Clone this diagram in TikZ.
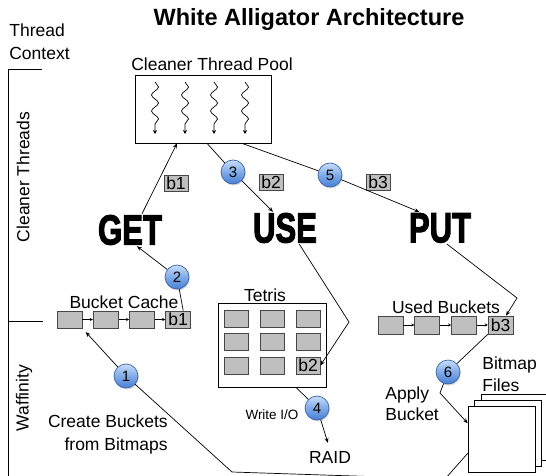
\documentclass[tikz,border=0pt]{standalone}
\usepackage{fontspec}
\setmainfont{Liberation Sans}
\newfontfamily\heavyfont[FakeBold=3]{Liberation Sans Bold}
\usetikzlibrary{positioning,arrows.meta,decorations.pathmorphing,calc,shadows}

\definecolor{bucketgray}{RGB}{191,191,191}
\definecolor{edgegray}{RGB}{70,70,70}
\definecolor{steptop}{RGB}{200,222,250}
\definecolor{stepbottom}{RGB}{70,128,215}
\definecolor{stepedge}{RGB}{60,100,170}

\tikzset{
	lbl/.style={font=\fontsize{17.5}{21}\selectfont, inner sep=1pt},
	verb/.style={font=\heavyfont\fontsize{42}{42}\selectfont, xscale=0.74, inner sep=1pt},
	bucket/.style={draw=edgegray, fill=bucketgray, minimum width=25pt, minimum height=17pt,
		inner sep=0pt, font=\fontsize{17.5}{21}\selectfont},
	tag/.style={bucket, minimum width=24pt, minimum height=16pt},
	stepball/.style={circle, minimum size=24pt, inner sep=0pt, top color=steptop, bottom color=stepbottom,
		middle color=stepbottom!55!steptop, draw=stepedge, font=\fontsize{15}{18}\selectfont,
		drop shadow={opacity=0.3, shadow xshift=0.8pt, shadow yshift=-1.5pt}},
	flow/.style={-{Stealth[length=5pt,width=4pt]}},
	link/.style={-{Stealth[length=3pt,width=3pt]}},
	wave/.style={decorate, decoration={snake, amplitude=3.5pt, segment length=16pt, post length=5pt},
		-{Stealth[length=4pt,width=4pt]}}
}

\begin{document}
\begin{tikzpicture}[x=1pt, y=-1pt, line width=0.7pt]
\useasboundingbox (0,0) rectangle (546,476);

\node[font=\bfseries\fontsize{23.5}{28}\selectfont] (title) at (309,19) {White Alligator Architecture};

% thread context bracket
\node[lbl, align=left, anchor=west, font=\fontsize{17.5}{23}\selectfont] (context) at (8,42) {Thread\\Context};
\draw (42,69) -- (8,69) -- (8,480);
\draw (8,321) -- (43,321);
\node[lbl, rotate=90] (cleaner) at (23,177) {Cleaner Threads};
\node[lbl, rotate=90] (waff) at (24,398) {Waffinity};

% thread pool
\node[draw, minimum width=136pt, minimum height=68pt] (pool) at (203,109) {};
\node[lbl] (poollbl) at (212,64) {Cleaner Thread Pool};
\foreach \x in {155,185,214,245}
	\draw[wave] (\x,82) -- (\x,134);

% verbs
\node[verb] (get) at (130,230) {GET};
\node[verb] (use) at (285,228) {USE};
\node[verb] (put) at (440,228) {PUT};

\node[tag] (tag1) at (176,183) {b1};
\node[tag] (tag2) at (271,182) {b2};
\node[tag] (tag3) at (378,182) {b3};

% bucket cache
\node[bucket] (cache1) at (69.5,319.5) {};
\node[bucket, right=10.5pt of cache1] (cache2) {};
\node[bucket, right=10.5pt of cache2] (cache3) {};
\node[bucket, right=10.5pt of cache3] (cache4) {b1};
\node[lbl] (cachelbl) at (124,302) {Bucket Cache};
\foreach \a/\b in {cache1/cache2, cache2/cache3, cache3/cache4}
	\draw[link] (\a) -- (\b);

% tetris
\node[draw, minimum width=108pt, minimum height=84pt] (tetris) at (272,345) {};
\node[lbl] (tetrislbl) at (265,295) {Tetris};
\foreach \r/\y in {1/318.5, 2/341.5}
	\foreach \c/\x in {1/236, 2/272, 3/308}
		\node[bucket, minimum width=24pt] (t\r\c) at (\x,\y) {};
\node[bucket, minimum width=24pt] (t31) at (236,365.5) {};
\node[bucket, minimum width=24pt] (t32) at (272,365.5) {};
\node[bucket, minimum width=24pt] (tb2) at (308,365.5) {b2};

% used buckets
\node[bucket, minimum height=18pt] (used1) at (390.5,325) {};
\node[bucket, minimum height=18pt, right=11pt of used1] (used2) {};
\node[bucket, minimum height=18pt, right=11pt of used2] (used3) {};
\node[bucket, minimum height=18pt, right=11pt of used3] (used4) {b3};
\node[lbl] (usedlbl) at (446,307) {Used Buckets};
\foreach \a/\b in {used1/used2, used2/used3, used3/used4}
	\draw[link] (\a) -- (\b);

% bitmap files
\node[draw, fill=white, minimum width=67pt, minimum height=66pt] (bf3) at (514.5,427) {};
\node[draw, fill=white, minimum width=67pt, minimum height=66pt] (bf2) at (508,433) {};
\node[draw, fill=white, minimum width=67pt, minimum height=66pt] (bf1) at (501.5,439) {};
\node[lbl, align=left, anchor=west, font=\fontsize{17.5}{22}\selectfont] (bitlbl) at (481,374) {Bitmap\\Files};

\node[lbl, align=left, anchor=west, font=\fontsize{17.5}{21}\selectfont] (applylbl) at (384,404) {Apply\\Bucket};
\node[lbl, align=right, anchor=east, font=\fontsize{17.5}{23}\selectfont] (createlbl) at (169,434) {Create Buckets\\from Bitmaps};
\node[lbl] (raid) at (330,457) {RAID};
\node[lbl, font=\fontsize{13.5}{16}\selectfont] (writelbl) at (272,415) {Write I/O};

% steps
\node[stepball] (c1) at (126,376) {1};
\node[stepball] (c2) at (177,277) {2};
\node[stepball] (c3) at (233,172) {3};
\node[stepball] (c4) at (317,408) {4};
\node[stepball] (c5) at (330,175) {5};
\node[stepball] (c6) at (448,372) {6};

% connectors
\draw[flow] (get.45) -- ($(pool.south)+(-26,0)$);
\draw ($(pool.south)+(4,0)$) -- (c3);
\draw[flow] (c3) -- (use.135);
\draw ($(pool.south)+(39,0)$) -- (c5);
\draw[flow] (c5) -- (put.150);

\draw (cache4.60) -- (c2);
\draw[flow] (c2) -- (get.-60);

\draw (bf1.203) -- (445,479) -- (232,472) -- (c1);
\draw[flow, shorten >=5pt] (c1) -- (cache1.south east);

\draw[flow] (use.-40) -- (349,322) -- (tb2.east);
\draw ($(tetris.south)+(24,0)$) -- (c4);
\draw[flow, shorten >=7pt] (c4) -- (raid.north);

\draw[flow] (put.-60) -- (517,298) -- (used4.60);
\draw (used4.south west) -- (c6);
\draw[flow] (c6) -- (440,393) -- (bf1.155);

\end{tikzpicture}
\end{document}
